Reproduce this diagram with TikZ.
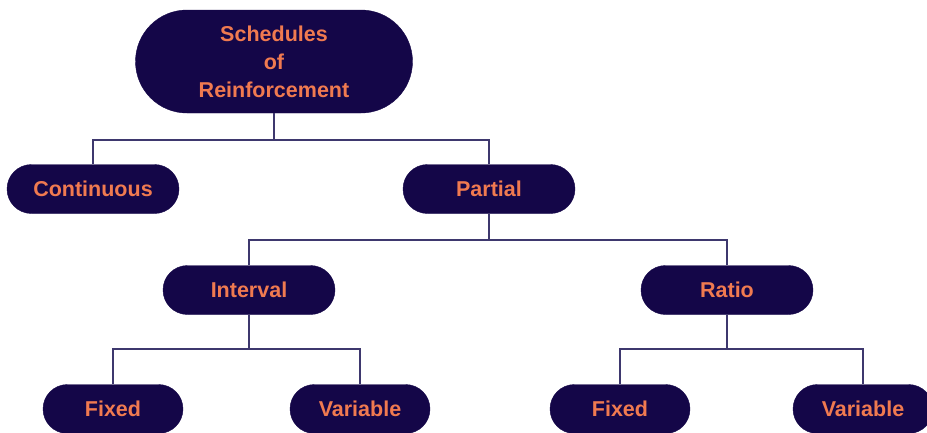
\documentclass[tikz,border=0pt]{standalone}
\usepackage{fontspec}
\setmainfont{Liberation Sans}
\usepackage{tikz}
\usetikzlibrary{shapes.misc,calc}
\definecolor{boxnavy}{RGB}{20,6,72}
\definecolor{txtorange}{RGB}{240,122,80}
\definecolor{linkgray}{RGB}{62,56,110}
\begin{document}
\begin{tikzpicture}[x=1pt,y=-1pt,
pill/.style={rounded rectangle,draw=boxnavy,fill=boxnavy,text=txtorange,font=\bfseries\fontsize{21.5}{28}\selectfont,align=center,inner sep=0pt,minimum width=172pt,minimum height=49pt},
leaf/.style={pill,minimum width=140pt},
link/.style={draw=linkgray,line width=1.6pt}]
\useasboundingbox(0,0)rectangle(927,432);
\node[pill,minimum width=277pt,minimum height=103pt](root)at(274,61.5){Schedules\\of\\Reinforcement};
\node[pill](cont)at(93,189){Continuous};
\node[pill](part)at(489,189){Partial};
\node[pill](intv)at(249,290){Interval};
\node[pill](ratio)at(727,290){Ratio};
\node[leaf](ifix)at(113,409){Fixed};
\node[leaf](ivar)at(360,409){Variable};
\node[leaf](rfix)at(620,409){Fixed};
\node[leaf](rvar)at(863,409){Variable};
\draw[link](root.south)--++(0,27)-|(cont.north);\draw[link](root.south)--++(0,27)-|(part.north);
\draw[link](part.south)--++(0,26)-|(intv.north);\draw[link](part.south)--++(0,26)-|(ratio.north);
\draw[link](intv.south)--++(0,34)-|(ifix.north);\draw[link](intv.south)--++(0,34)-|(ivar.north);
\draw[link](ratio.south)--++(0,34)-|(rfix.north);\draw[link](ratio.south)--++(0,34)-|(rvar.north);
\end{tikzpicture}
\end{document}
